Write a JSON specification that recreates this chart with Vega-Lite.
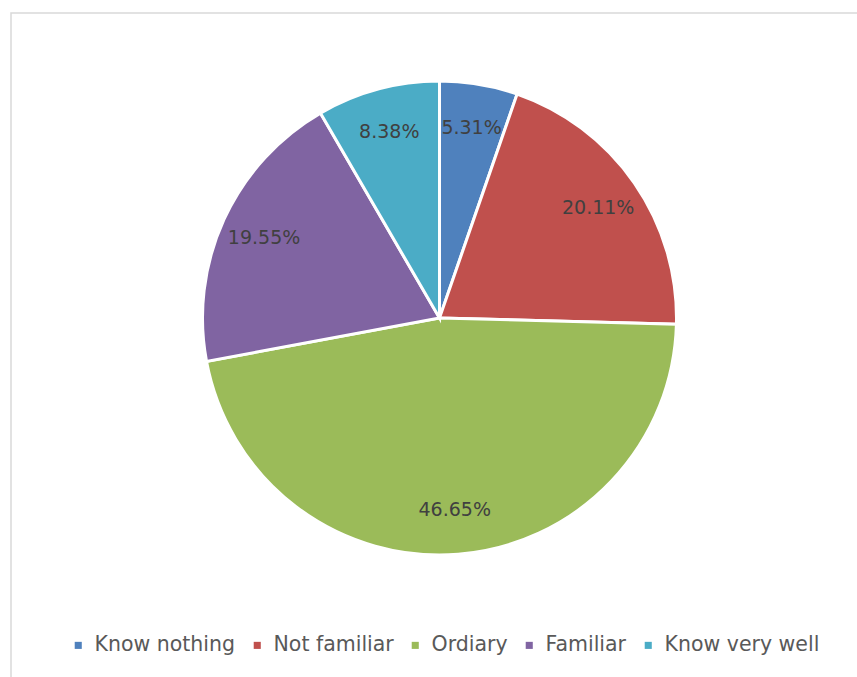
{
  "$schema": "https://vega.github.io/schema/vega-lite/v6.json",
  "width": 857,
  "height": 677,
  "autosize": {"type": "fit", "contains": "padding"},
  "padding": {"left": 11, "top": 13, "right": -3, "bottom": -3},
  "background": "white",
  "view": {"stroke": "#d9d9d9", "strokeWidth": 1.5},
  "data": {
    "values": [
      {"category": "Know nothing", "pct": 5.31, "label": "5.31%", "order": 1},
      {"category": "Not familiar", "pct": 20.11, "label": "20.11%", "order": 2},
      {"category": "Ordiary", "pct": 46.65, "label": "46.65%", "order": 3},
      {"category": "Familiar", "pct": 19.55, "label": "19.55%", "order": 4},
      {"category": "Know very well", "pct": 8.38, "label": "8.38%", "order": 5}
    ]
  },
  "encoding": {
    "theta": {"field": "pct", "type": "quantitative", "stack": true},
    "order": {"field": "order", "type": "quantitative"}
  },
  "layer": [
    {
      "mark": {"type": "arc", "outerRadius": 237, "stroke": "white", "strokeWidth": 3, "xOffset": 4, "yOffset": -28.5},
      "encoding": {
        "color": {
          "field": "category",
          "type": "nominal",
          "sort": ["Know nothing", "Not familiar", "Ordiary", "Familiar", "Know very well"],
          "scale": {
            "domain": ["Know nothing", "Not familiar", "Ordiary", "Familiar", "Know very well"],
            "range": ["#4F81BD", "#C0504D", "#9BBB59", "#8064A2", "#4BACC6"]
          },
          "legend": {
            "title": null,
            "orient": "none",
            "direction": "horizontal",
            "legendX": 57,
            "legendY": 622,
            "symbolType": "square",
            "symbolSize": 50,
            "symbolStrokeWidth": 0,
            "labelFont": "DejaVu Sans",
            "labelFontSize": 20.5,
            "labelColor": "#595959",
            "labelOffset": 6,
            "columnPadding": 11,
            "labelLimit": 300
          }
        }
      }
    },
    {
      "mark": {"type": "text", "radius": 193, "font": "DejaVu Sans", "fontSize": 19, "color": "#404040", "xOffset": 4, "yOffset": -28.5},
      "encoding": {
        "text": {"field": "label", "type": "nominal"}
      }
    }
  ]
}
